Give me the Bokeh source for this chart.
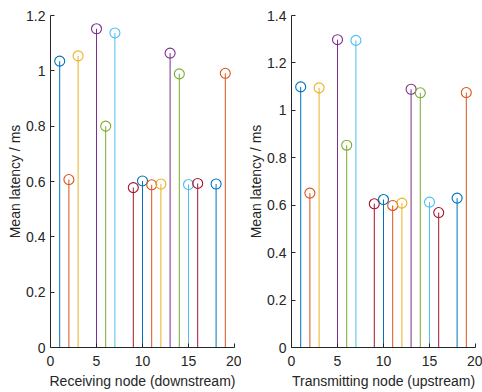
from bokeh.plotting import figure
from bokeh.layouts import row
from bokeh.models import Range1d, FixedTicker
from bokeh.embed import file_html
from bokeh.resources import INLINE

nodes = [1, 2, 3, 5, 6, 7, 9, 10, 11, 12, 13, 14, 15, 16, 18, 19]
downstream = [1.035, 0.607, 1.054, 1.152, 0.800, 1.137, 0.578, 0.602, 0.588, 0.591,
              1.064, 0.989, 0.589, 0.593, 0.591, 0.991]
upstream = [1.099, 0.651, 1.095, 1.298, 0.853, 1.295, 0.606, 0.624, 0.599, 0.609,
            1.089, 1.074, 0.613, 0.569, 0.630, 1.075]
palette = ["#0072BD", "#D95319", "#EDB120", "#7E2F8E", "#77AC30", "#4DBEEE", "#A2142F"]
xticks = [0, 5, 10, 15, 20]

FONT = "Liberation Sans"
AX = "#262626"


def make(values, ymax, yticks, xlabel):
    p = figure(width=241, height=392, output_backend="svg", toolbar_location=None,
               x_range=Range1d(0, 20), y_range=Range1d(0, ymax),
               min_border_left=50, min_border_right=7, min_border_top=15, min_border_bottom=45)
    p.outline_line_color = None
    p.xgrid.visible = False
    p.ygrid.visible = False
    colors = [palette[i % len(palette)] for i in range(len(nodes))]
    p.segment(x0=nodes, y0=[0] * len(nodes), x1=nodes, y1=values, line_color=colors, line_width=1)
    p.scatter(x=nodes, y=values, size=10, fill_color=None, line_color=colors, line_width=1.1)
    p.xaxis.ticker = FixedTicker(ticks=xticks)
    p.yaxis.ticker = FixedTicker(ticks=yticks)
    for ax in (p.xaxis[0], p.yaxis[0]):
        ax.major_tick_in = 4
        ax.major_tick_out = 0
        ax.minor_tick_in = 0
        ax.minor_tick_out = 0
        ax.axis_line_color = AX
        ax.major_tick_line_color = AX
        ax.major_label_text_color = AX
        ax.major_label_text_font = FONT
        ax.major_label_text_font_size = "14px"
        ax.axis_label_text_font = FONT
        ax.axis_label_text_font_size = "14px"
        ax.axis_label_text_font_style = "normal"
        ax.axis_label_text_color = AX
    p.xaxis.axis_label = xlabel
    p.yaxis.axis_label = "Mean latency / ms"
    p.xaxis.major_label_standoff = 8
    p.yaxis.major_label_standoff = 5
    p.xaxis.axis_label_standoff = 4
    p.yaxis.axis_label_standoff = 0
    p.yaxis.major_label_overrides = {0: "0"}
    return p


p1 = make(downstream, 1.2, [0, 0.2, 0.4, 0.6, 0.8, 1.0, 1.2], "Receiving node (downstream)")
p2 = make(upstream, 1.4, [0, 0.2, 0.4, 0.6, 0.8, 1.0, 1.2, 1.4], "Transmitting node (upstream)")
p = row(p1, p2)

open("out.html", "w").write(file_html(p, INLINE))
